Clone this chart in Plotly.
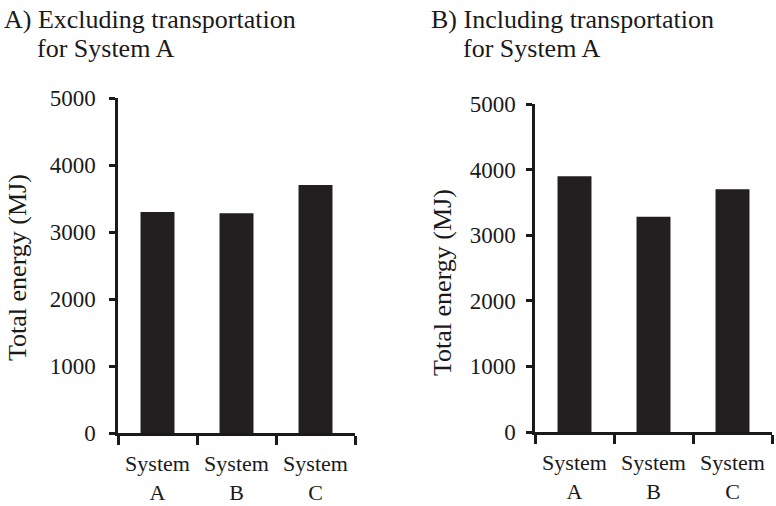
import plotly.graph_objects as go

categories = ["System<br>A", "System<br>B", "System<br>C"]
excluding = [3300, 3280, 3700]
including = [3900, 3280, 3700]
y_ticks = [0, 1000, 2000, 3000, 4000, 5000]
panel_titles = [("A) Excluding transportation", "for System A"),
                ("B) Including transportation", "for System A")]
y_title = "Total energy (MJ)"

W, H = 776, 506
FONT = "Liberation Serif, Times New Roman, serif"
INK = "#1a1a1a"
BAR = "#231f20"

fig = go.Figure()
fig.add_trace(go.Bar(x=categories, y=excluding, marker=dict(color=BAR, line=dict(width=0)),
                     width=0.43, xaxis="x", yaxis="y", showlegend=False))
fig.add_trace(go.Bar(x=categories, y=including, marker=dict(color=BAR, line=dict(width=0)),
                     width=0.43, xaxis="x2", yaxis="y2", showlegend=False))


def px_x(v):
    return v / W


def px_y(v):
    return 1 - v / H


xcommon = dict(type="category", showline=True, linecolor=INK, linewidth=2.5,
               ticks="outside", tickson="boundaries", ticklen=9, tickwidth=2.5,
               tickcolor=INK, showgrid=False, zeroline=False, automargin=False,
               tickfont=dict(family=FONT, size=22, color=INK),
               ticklabelstandoff=9, fixedrange=True)
ycommon = dict(range=[0, 5000], tickvals=y_ticks, showline=True, linecolor=INK,
               linewidth=2.5, ticks="outside", ticklen=6, tickwidth=2.5,
               tickcolor=INK, showgrid=False, zeroline=False, automargin=False,
               tickfont=dict(family=FONT, size=23, color=INK), fixedrange=True)

fig.update_layout(
    width=W, height=H,
    margin=dict(l=0, r=0, t=0, b=0),
    paper_bgcolor="white", plot_bgcolor="white",
    bargap=0.57,
    xaxis=dict(domain=[px_x(118), px_x(355)], anchor="y", **xcommon),
    yaxis=dict(domain=[px_y(433), px_y(98)], anchor="x", ticklabelstandoff=9, **ycommon),
    xaxis2=dict(domain=[px_x(535), px_x(772)], anchor="y2", **xcommon),
    yaxis2=dict(domain=[px_y(432), px_y(104)], anchor="x2", ticklabelstandoff=6, **ycommon),
)

annots = []
title_pos = [(2, 35), (429, 461)]
for (l1, l2), (x1, x2) in zip(panel_titles, title_pos):
    annots.append(dict(text=l1, x=px_x(x1), y=px_y(19), xref="paper", yref="paper",
                       xanchor="left", yanchor="middle", showarrow=False,
                       font=dict(family=FONT, size=26, color=INK)))
    annots.append(dict(text=l2, x=px_x(x2), y=px_y(48), xref="paper", yref="paper",
                       xanchor="left", yanchor="middle", showarrow=False,
                       font=dict(family=FONT, size=26, color=INK)))
for xc, yc in [(17, 268), (442, 283)]:
    annots.append(dict(text=y_title, x=px_x(xc), y=px_y(yc), xref="paper", yref="paper",
                       xanchor="center", yanchor="middle", textangle=-90, showarrow=False,
                       font=dict(family=FONT, size=26, color=INK)))
fig.update_layout(annotations=annots)

fig.write_html("out.html",
               config={"displayModeBar": False},
               post_script="document.body.style.margin='0';"
                           "document.body.style.overflow='hidden';")
